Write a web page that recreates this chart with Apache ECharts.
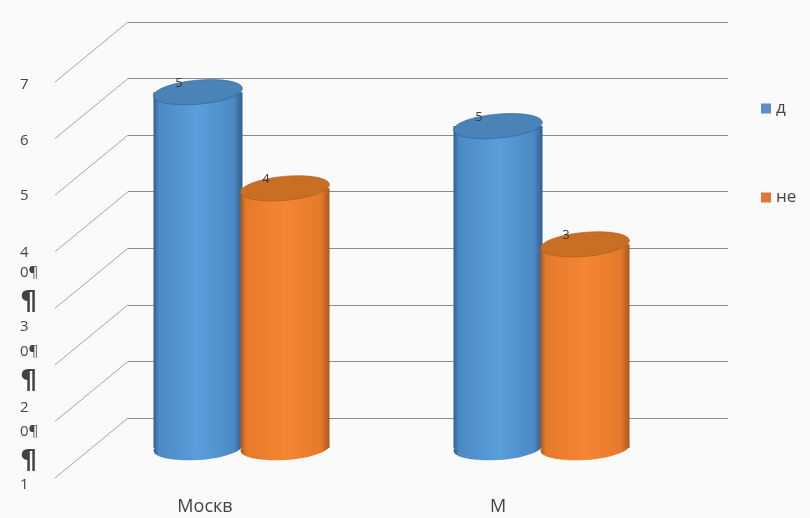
<!DOCTYPE html>
<html><head><meta charset="utf-8">
<style>html,body{margin:0;padding:0;background:#fff}#c{width:810px;height:518px}</style>
<script src="https://cdn.jsdelivr.net/npm/echarts@6/dist/echarts.min.js"></script>
</head><body><div id="c"></div>
<script>
const categories = ['Москв', 'М'];
const seriesNames = ['д', 'не'];
const valuesYes = [6.29, 5.69];
const valuesNo = [4.59, 3.6];
const labelsYes = ['5', '5'];
const labelsNo = ['4', '3'];
const gridTicks = [0, 1, 2, 3, 4, 5, 6, 7];
const tickValues = [6.96, 5.97, 4.99, 3.98, 3.62, 3.09, 2.67, 2.23, 1.70, 1.24, 0.81, 0.28, -0.12];
const tickLabels = ['7', '6', '5', '4', '0¶', '¶', '3', '0¶', '¶', '2', '0¶', '¶', '1'];

const FONT = '"Open Sans","Liberation Sans",sans-serif';
const DEPTH_X = -73, DEPTH_Y = 60;
const BAR_W = 89, RY = 12;

function cylinder(offset, colors, texts) {
  return function (params, api) {
    const i = params.dataIndex;
    const base = api.coord([i, 0]);
    const top = api.coord([i, api.value(1)]);
    const cx = base[0] + DEPTH_X / 2 + offset;
    const yb = base[1] + DEPTH_Y / 2;
    const yt = top[1] + DEPTH_Y / 2;
    const rx = BAR_W / 2;
    const grad = new echarts.graphic.LinearGradient(0, 0, 1, 0, [
      { offset: 0, color: colors.edge },
      { offset: 0.06, color: colors.dark },
      { offset: 0.5, color: colors.light },
      { offset: 0.9, color: colors.dark },
      { offset: 1, color: colors.edge }
    ]);
    return {
      type: 'group',
      children: [
        { type: 'ellipse', shape: { cx: cx, cy: yb, rx: rx, ry: RY }, rotation: 0.07, originX: cx, originY: yb, style: { fill: grad } },
        { type: 'rect', shape: { x: cx - rx, y: yt, width: BAR_W, height: yb - yt }, style: { fill: grad } },
        { type: 'ellipse', shape: { cx: cx, cy: yt, rx: rx, ry: RY }, rotation: 0.09, originX: cx, originY: yt, style: { fill: colors.top, stroke: colors.edge, lineWidth: 0.6 } },
        { type: 'text', x: cx - 19, y: yt - 9, style: { text: texts[i], fill: '#3a3a3a', font: '13px ' + FONT, textAlign: 'center', textVerticalAlign: 'middle' } }
      ]
    };
  };
}

const blue = { edge: '#2f5f8f', dark: '#4b8ac4', light: '#5a9edb', top: '#4a83b8' };
const orange = { edge: '#a8591c', dark: '#e57a2b', light: '#f58632', top: '#c96f24' };

const chart = echarts.init(document.getElementById('c'), null, { renderer: 'canvas' });
chart.setOption({
  animation: false,
  backgroundColor: '#fafafa',
  textStyle: { fontFamily: FONT },
  legend: {
    orient: 'vertical', left: 761, top: 100, padding: 0, itemWidth: 10, itemHeight: 10, itemGap: 72,
    icon: 'rect',
    data: seriesNames,
    textStyle: { fontSize: 17, color: '#444', fontFamily: FONT }
  },
  grid: [
    { left: 128, right: 82, top: 22, bottom: 100, outerBoundsMode: 'none' },
    { left: 55, right: 155, top: 82, bottom: 11.7, outerBoundsMode: 'none' }
  ],
  xAxis: [
    { type: 'category', gridIndex: 0, data: categories, axisLine: { show: false }, axisTick: { show: false }, axisLabel: { show: false } },
    {
      type: 'category', gridIndex: 1, data: categories,
      axisLine: { show: false, onZero: false }, axisTick: { show: false },
      axisLabel: {
        margin: -8,
        formatter: function (v, i) { return i === 1 ? '{m|' + v + '}' : '{a|' + v + '}'; },
        rich: {
          a: { fontSize: 18, color: '#444', fontFamily: FONT },
          m: { fontSize: 18, color: '#444', fontFamily: FONT, padding: [0, 14, 0, 0] }
        }
      }
    }
  ],
  yAxis: [
    {
      type: 'value', gridIndex: 0, min: 0, max: 7, interval: 1,
      axisLine: { show: false }, axisTick: { show: false }, axisLabel: { show: false },
      splitLine: { show: true, lineStyle: { color: '#8c8c8c', width: 1 } }
    },
    {
      type: 'value', gridIndex: 1, min: -0.5, max: 7, interval: 0.5,
      axisLine: { show: false }, axisTick: { show: false }, splitLine: { show: false },
      axisLabel: {
        customValues: tickValues,
        align: 'left', margin: 35,
        formatter: function (v) {
          const t = tickLabels[tickValues.indexOf(v)];
          return t === '¶' ? '{p|¶}' : '{d|' + t + '}';
        },
        rich: {
          d: { fontSize: 15, color: '#444', fontFamily: FONT },
          p: { fontSize: 27, fontWeight: 'bold', color: '#444', fontFamily: '"DejaVu Sans",sans-serif' }
        }
      }
    }
  ],
  series: [
    {
      type: 'custom', name: 'depth', xAxisIndex: 0, yAxisIndex: 0, silent: true, z: 1,
      data: gridTicks.map(function (v) { return [0, v]; }),
      renderItem: function (params, api) {
        const p = api.coord([0, api.value(1)]);
        const x0 = params.coordSys.x;
        return { type: 'line', shape: { x1: x0, y1: p[1], x2: x0 + DEPTH_X, y2: p[1] + DEPTH_Y }, style: { stroke: '#a6a6a6', lineWidth: 1 } };
      }
    },
    {
      type: 'custom', name: seriesNames[0], xAxisIndex: 0, yAxisIndex: 0, z: 3,
      itemStyle: { color: '#5b8fc9' },
      data: valuesYes.map(function (v, i) { return [i, v]; }),
      renderItem: cylinder(-43.5, blue, labelsYes)
    },
    {
      type: 'custom', name: seriesNames[1], xAxisIndex: 0, yAxisIndex: 0, z: 4,
      itemStyle: { color: '#e0763a' },
      data: valuesNo.map(function (v, i) { return [i, v]; }),
      renderItem: cylinder(43.5, orange, labelsNo)
    }
  ]
});
</script></body></html>
